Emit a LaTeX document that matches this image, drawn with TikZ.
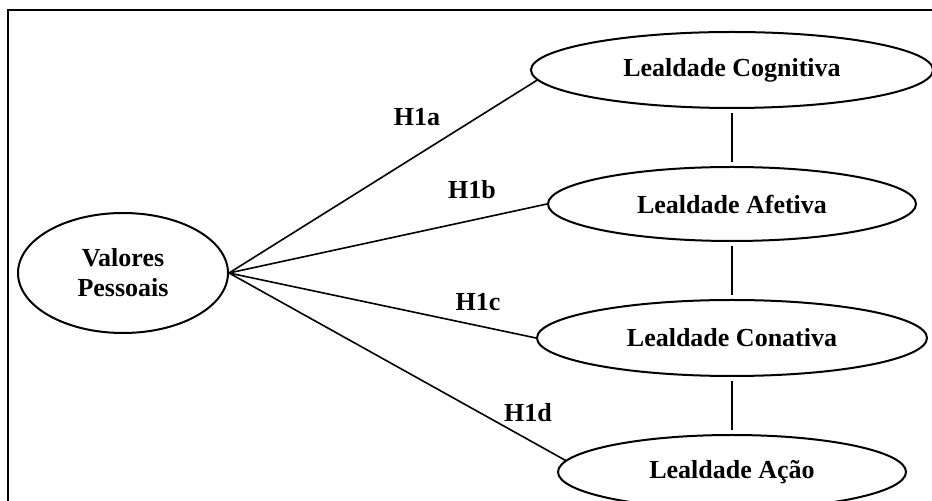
\documentclass[tikz,border=0pt]{standalone}
\usepackage{fontspec}
\setmainfont{Liberation Serif}
\usetikzlibrary{positioning, shapes.geometric}

\begin{document}
\begin{tikzpicture}[node distance=67pt, font=\fontsize{13}{15}\selectfont\bfseries,
  lealdade/.style={draw, ellipse, line width=1pt, inner sep=0pt, minimum height=37pt},
  hip/.style={inner sep=0pt},
  liga/.style={line width=0.8pt}]
\useasboundingbox (0,0) rectangle (466pt,-250.5pt);
\clip (0,0) rectangle (466pt,-250.5pt);
\draw[line width=1.2pt] (4pt,-5pt) rectangle (480pt,-270pt);
\node[draw, ellipse, line width=1pt, align=center, inner sep=0pt, minimum width=105pt, minimum height=60pt] (v) at (61.5pt,-136.5pt) {Valores\\Pessoais};
\node[lealdade, minimum width=201pt, minimum height=38pt] (c) at (366pt,-35pt) {Lealdade Cognitiva};
\node[lealdade, minimum width=184pt, below of=c] (a) {Lealdade Afetiva};
\node[lealdade, minimum width=195pt, minimum height=38pt, below of=a] (n) {Lealdade Conativa};
\node[lealdade, minimum width=174pt, below of=n] (ac) {Lealdade Ação};
\draw[liga] (v.east) -- (c.183);
\draw[liga] (v.east) -- (a.west);
\draw[liga] (v.east) -- (n.west);
\draw[liga] (v.east) -- (ac.176);
\draw[liga, shorten <=2pt, shorten >=2pt] (c) -- (a);
\draw[liga, shorten <=2pt, shorten >=2pt] (a) -- (n);
\draw[liga, shorten <=2pt, shorten >=2pt] (n) -- (ac);
% hipoteses
\node[hip] (h1a) at (208.5pt,-58.5pt) {H1a};
\node[hip] (h1b) at (236pt,-95pt) {H1b};
\node[hip] (h1c) at (239pt,-151pt) {H1c};
\node[hip] (h1d) at (264pt,-206.5pt) {H1d};
\end{tikzpicture}
\end{document}
